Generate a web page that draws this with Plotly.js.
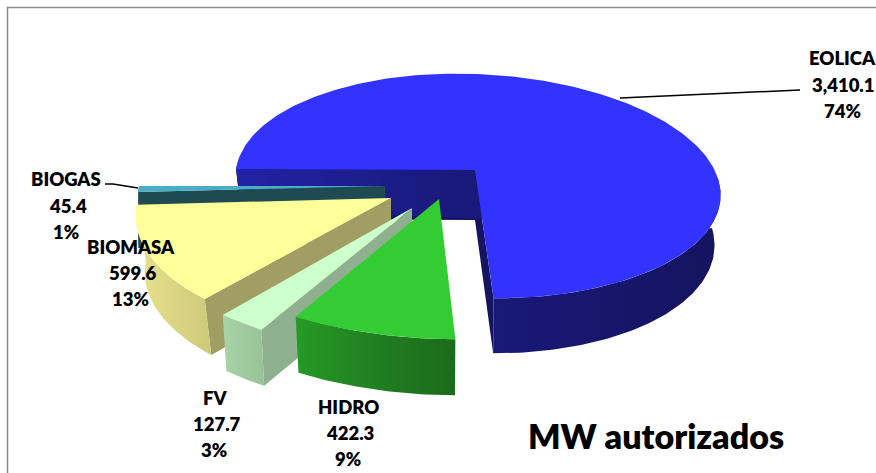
<!DOCTYPE html>
<html>
<head>
<meta charset="utf-8">
<script src="https://cdn.plot.ly/plotly-3.0.1.min.js"></script>
<style>html,body{margin:0;padding:0;background:#fff}#chart{width:876px;height:473px}</style>
</head>
<body>
<div id="chart"></div>
<script>
// ---- data ----
const categories = ['EOLICA', 'HIDRO', 'FV', 'BIOMASA', 'BIOGAS'];
const values = [3410.1, 422.3, 127.7, 599.6, 45.4];
const chartTitle = 'MW autorizados';

// ---- styling and projection of the 3D exploded pie ----
const topColors = ['#3333ff', '#33cc33', '#ccffcc', '#ffff99', '#4bacc6'];
const wallScales = [
  [[0,'#2222a6'],[0.4,'#1a1a80'],[1,'#14145f']],
  [[0,'#259a25'],[0.6,'#207a20'],[1,'#1c6b1c']],
  [[0,'#a8d2a8'],[1,'#98c298']],
  [[0,'#e6e28e'],[1,'#cdc97a']],
  [[0,'#1f4a52'],[1,'#1f4a52']]
];
const faceColors = ['#14145f', '#1c6b1c', '#8fb08f', '#a09e62', '#1f4a52'];
const drawOrder = [0, 4, 3, 2, 1];
const R = 242, B = 111.4, P = 0.0714, TILT = 9;
const geom = [
  {ax:475, ay:170, xo:3,   yo:8,   kx:1,     ky:1,    sk:0,   depth:50, dv:5, w:0.975},
  {ax:439, ay:199, xo:-1,  yo:14,  kx:1.117, ky:1.05, sk:0,   depth:56, dv:0, w:0.98},
  {ax:412, ay:208, xo:-13, yo:16,  kx:1.08,  ky:1.07, sk:0,   depth:56, dv:0, w:0.98},
  {ax:391, ay:198, xo:2,   yo:9,   kx:1.05,  ky:1.08, sk:-22, depth:56, dv:0, w:0.965},
  {ax:385, ay:186, xo:-4,  yo:7.7, kx:1,     ky:0.86, sk:0,   depth:56, dv:0, w:1}
];
const labelPos = [
  [[842,58],[843,85],[842,111]],
  [[348,407],[350,433],[348,459]],
  [[215,398],[217,424],[214,450]],
  [[131,247],[133,273],[130,299]],
  [[66,179],[68,206],[66,232]]
];

const total = values.reduce((a, b) => a + b, 0);
const rad = d => d * Math.PI / 180;

function rim(g, deg) {
  const u = Math.cos(rad(deg)), v = -Math.sin(rad(deg));
  const s = 1 / (1 - P * v);
  return {
    x: g.ax + g.xo + g.kx * R * u * s + g.sk * v,
    y: g.ay + g.yo + g.ky * (B * v * s + TILT * u),
    v
  };
}
function low(g, p) {
  return {
    x: g.ax + g.xo + (p.x - g.ax - g.xo) * g.w,
    y: p.y + g.depth + g.dv * p.v
  };
}
function poly(pts, color, scale) {
  const tr = {
    type: 'scatter', mode: 'lines', fill: 'toself',
    x: pts.map(p => p.x), y: pts.map(p => p.y),
    line: {width: 0, color: color || 'rgba(0,0,0,0)'},
    showlegend: false, hoverinfo: 'skip'
  };
  if (scale) tr.fillgradient = {type: 'horizontal', colorscale: scale};
  else tr.fillcolor = color;
  return tr;
}

const sliceTraces = [];
let angle = 180;
categories.forEach((name, i) => {
  const g = geom[i];
  const start = angle, end = angle - 360 * values[i] / total;
  angle = end;
  const arc = [];
  const n = Math.max(4, Math.ceil(start - end));
  for (let k = 0; k <= n; k++) arc.push(rim(g, start + (end - start) * k / n));
  const apex = {x: g.ax, y: g.ay};
  const apexLow = {x: g.ax, y: g.ay + g.depth};
  const group = [];

  // radial faces turned to the viewer
  const faceEnds = i === 0 ? [arc[0], arc[arc.length - 1]] : i === 1 ? [] : [arc[0]];
  faceEnds.forEach(p => group.push(poly([apex, p, low(g, p), apexLow], faceColors[i])));
  // outer wall (only the part turned to the viewer)
  const front = arc.filter(p => p.v > -0.09);
  const wall = front.concat(front.slice().reverse().map(p => low(g, p)));
  group.push(poly(wall, null, wallScales[i]));
  // top surface
  const topTrace = poly([apex].concat(arc, [apex]), topColors[i]);
  topTrace.name = name;
  topTrace.text = name + ': ' + values[i];
  group.push(topTrace);
  sliceTraces[i] = group;
});
const traces = [];
drawOrder.forEach(i => traces.push(...sliceTraces[i]));

const fmt = v => v.toLocaleString('en-US', {minimumFractionDigits: 1, maximumFractionDigits: 1});
const annotations = [];
categories.forEach((name, i) => {
  [name, fmt(values[i]), Math.round(100 * values[i] / total) + '%'].forEach((t, j) => {
    annotations.push({
      x: labelPos[i][j][0], y: labelPos[i][j][1], xref: 'x', yref: 'y',
      text: t, showarrow: false, xanchor: 'center', yanchor: 'middle',
      font: {family: 'Lato, sans-serif', size: 18.5, color: '#000', weight: 800}
    });
  });
});

const layout = {
  width: 876, height: 473,
  margin: {l: 0, r: 0, t: 0, b: 0},
  paper_bgcolor: '#fff', plot_bgcolor: '#fff',
  showlegend: false,
  xaxis: {range: [0, 876], visible: false, fixedrange: true},
  yaxis: {range: [473, 0], visible: false, fixedrange: true},
  title: {
    text: chartTitle,
    x: 656 / 876, y: 1 - 437 / 473, xanchor: 'center', yanchor: 'middle',
    font: {family: 'Lato, sans-serif', size: 34, color: '#000', weight: 800}
  },
  annotations,
  shapes: [
    {type: 'path', path: 'M7.5,473 L7.5,7.5 L876,7.5', line: {color: '#8c8c8c', width: 1.5}, xref: 'x', yref: 'y'},
    {type: 'path', path: 'M620,98 L800,90', line: {color: '#000', width: 1.5}, xref: 'x', yref: 'y'},
    {type: 'path', path: 'M105,184 L113,184 L138,188', line: {color: '#000', width: 1.5}, xref: 'x', yref: 'y'}
  ]
};
Plotly.newPlot('chart', traces, layout, {displayModeBar: false, staticPlot: true});
</script>
</body>
</html>
